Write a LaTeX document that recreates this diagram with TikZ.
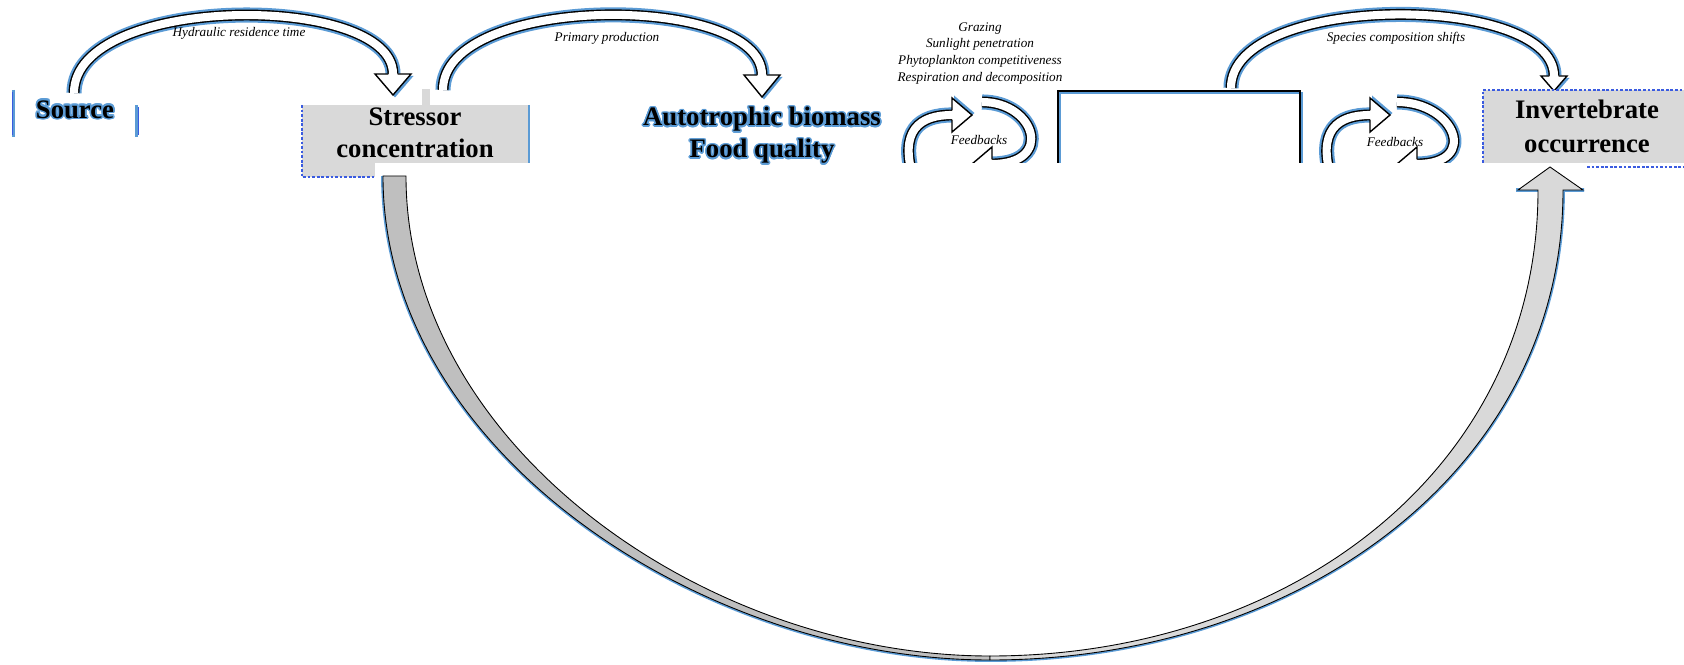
\documentclass[tikz,border=0pt]{standalone}
\usepackage{fontspec}
\setmainfont{Liberation Serif}
\usepackage[copies]{contour}
\contourlength{0.9pt}
\usetikzlibrary{calc}

\definecolor{shadowblue}{HTML}{5B9BD5}
\definecolor{dashblue}{HTML}{3A5BE0}
\definecolor{boxgray}{HTML}{D9D9D9}
\definecolor{armgray}{HTML}{BFBFBF}

\tikzset{
  hollow/.style={line width=0.8pt, double=white, double distance=4.6pt},
  hollowsh/.style={shadowblue, line width=8.6pt, shift={(2,2)}},
  boldtext/.style={font=\fontsize{15.2}{18.2}\selectfont\bfseries, align=center, inner sep=0pt, anchor=north},
  smalltext/.style={font=\fontsize{7.5}{9.5}\selectfont\itshape, align=center, inner sep=0pt},
  dashedge/.style={dashblue, line width=0.7pt, dash pattern=on 1.6pt off 1pt},
  pics/headdown/.style 2 args={code={
    \fill[shadowblue] (-#1+2,-#2+2) -- (#1+2.5,-#2+2) -- (2,2.5) -- cycle;
    \filldraw[fill=white, line width=0.8pt, line join=miter] (-4.7,-#2) -- (-#1,-#2) -- (0,0) -- (#1,-#2) -- (4.7,-#2);
  }},
}

\begin{document}
\begin{tikzpicture}[x=0.02cm, y=-0.02cm]
    \useasboundingbox (0,0) rectangle (1684,665);

    % long arrow: stressor -> invertebrates
    \coordinate (bigA) at (383,176);
    \coordinate (bigB) at (406,176);
    \coordinate (bigC) at (990,660);
    \coordinate (bigD) at (990,656);
    \coordinate (bigE) at (1563,190);
    \coordinate (bigF) at (1538,190);
    \coordinate (bigtip) at (1550,167);
    \draw[shadowblue, line width=2.2pt] (bigA) .. controls +(0,274) and +(-290,0) .. (bigC) .. controls +(310,0) and +(0,280) .. (bigE) -- (1584,190);
    \draw[shadowblue, line width=2.2pt] (1516,190) -- (bigF);
    \filldraw[fill=armgray, line width=0.5pt] (bigA) .. controls +(0,274) and +(-290,0) .. (bigC) -- (bigD) .. controls +(-285,0) and +(0,269) .. (bigB) -- cycle;
    \filldraw[fill=boxgray, line width=0.5pt] (bigC) .. controls +(310,0) and +(0,280) .. (bigE) -- (1583,190) -- (bigtip) -- (1518,190) -- (bigF) .. controls +(0,280) and +(300,0) .. (bigD) -- cycle;

    % source
    \draw[shadowblue, line width=2pt] (13.5,90) -- (13.5,137);
    \draw[dashblue, line width=0.4pt] (12,92) -- (12,135);
    \draw[shadowblue, line width=2pt] (136.5,105) -- (136.5,137);
    \draw[dashblue, line width=0.4pt] (138,107) -- (138,135);
    \node[boldtext] (src) at (75,100) {\contour{shadowblue}{Source}};

    % stressor box
    \fill[boxgray] (302,105) rectangle (530,163);
    \fill[boxgray] (302,163) rectangle (375,177);
    \fill[boxgray] (422,89) rectangle (430,105);
    \draw[shadowblue, line width=1pt] (529,105) -- (529,163);
    \draw[dashedge] (302,105) -- (302,177) -- (375,177);
    \node[boldtext] (stressor) at (415,107) {Stressor\\concentration};

    % hydraulic residence time
    \coordinate (src-out) at (74,93);
    \coordinate (hyd-end) at (393,74);
    \coordinate (hyd-tip) at (393,95);
    \draw[hollowsh] (src-out) .. controls +(0,-100) and +(0,-82) .. (hyd-end);
    \draw[hollow] (src-out) .. controls +(0,-100) and +(0,-82) .. (hyd-end);
    \pic at (hyd-tip) {headdown={18}{21}};
    \node[smalltext] (hyd) at (239,33) {Hydraulic residence time};

    % primary production
    \coordinate (str-out) at (443,90);
    \coordinate (pp-end) at (762,75);
    \coordinate (pp-tip) at (762,97);
    \draw[hollowsh] (str-out) .. controls +(0,-97) and +(0,-83) .. (pp-end);
    \draw[hollow] (str-out) .. controls +(0,-97) and +(0,-83) .. (pp-end);
    \pic at (pp-tip) {headdown={18}{22}};
    \node[smalltext] (pp) at (607,38) {Primary production};

    \node[boldtext] (auto) at (762,107) {\contour{shadowblue}{Autotrophic biomass}\\\contour{shadowblue}{Food quality}};

    \node[smalltext, anchor=north] (mech) at (980,22) {Grazing\\Sunlight penetration\\Phytoplankton competitiveness\\Respiration and decomposition};

    % feedback loops and middle box, cut off below
    \begin{scope}
        \clip (850,0) rectangle (1480,163);
        \coordinate (fbA-start) at (914,180);
        \coordinate (fbA-end) at (952,115);
        \coordinate (fbA-tip) at (972,115);
        \coordinate (fbB-start) at (982,102);
        \coordinate (fbB-end) at (992,164);
        \coordinate (fbB-tip) at (972,164);
        \draw[hollowsh] (fbA-start) .. controls +(-16,-50) and +(-32,0) .. (fbA-end);
        \draw[hollow] (fbA-start) .. controls +(-16,-50) and +(-32,0) .. (fbA-end);
        \pic[rotate=90] at (fbA-tip) {headdown={17}{20}};
        \draw[hollowsh] (fbB-start) .. controls +(53,0) and +(63,0) .. (fbB-end);
        \draw[hollow] (fbB-start) .. controls +(53,0) and +(63,0) .. (fbB-end);
        \pic[rotate=-90] at (fbB-tip) {headdown={17}{20}};

        \coordinate (fbC-start) at (1332,180);
        \coordinate (fbC-end) at (1370,115);
        \coordinate (fbC-tip) at (1390,115);
        \coordinate (fbD-start) at (1397,102);
        \coordinate (fbD-end) at (1417,164);
        \coordinate (fbD-tip) at (1397,164);
        \draw[hollowsh] (fbC-start) .. controls +(-16,-50) and +(-32,0) .. (fbC-end);
        \draw[hollow] (fbC-start) .. controls +(-16,-50) and +(-32,0) .. (fbC-end);
        \pic[rotate=90] at (fbC-tip) {headdown={17}{20}};
        \draw[hollowsh] (fbD-start) .. controls +(58,0) and +(63,0) .. (fbD-end);
        \draw[hollow] (fbD-start) .. controls +(58,0) and +(63,0) .. (fbD-end);
        \pic[rotate=-90] at (fbD-tip) {headdown={17}{20}};

        \draw[shadowblue, line width=1.4pt] (1060,93) rectangle (1302,220);
        \draw[line width=1.4pt] (1058,91) rectangle (1300,220);
    \end{scope}
    \node[smalltext] (fb1) at (979,140) {Feedbacks};
    \node[smalltext] (fb2) at (1395,142) {Feedbacks};

    % species composition shifts
    \coordinate (box-out) at (1231,88);
    \coordinate (sp-end) at (1554,76);
    \coordinate (sp-tip) at (1554,91);
    \draw[hollowsh] (box-out) .. controls +(0,-96) and +(0,-84) .. (sp-end);
    \draw[hollow] (box-out) .. controls +(0,-96) and +(0,-84) .. (sp-end);
    \pic at (sp-tip) {headdown={13}{15}};
    \node[smalltext] (sp) at (1396,38) {Species composition shifts};

    % invertebrate box
    \fill[boxgray] (1483,90) rectangle (1690,163);
    \draw[dashedge] (1483,163) -- (1483,90) -- (1684,90);
    \draw[dashedge] (1587,167) -- (1684,167);
    \node[boldtext, font=\fontsize{15.2}{19.4}\selectfont\bfseries] (inv) at (1587,100) {Invertebrate\\occurrence};
\end{tikzpicture}
\end{document}
